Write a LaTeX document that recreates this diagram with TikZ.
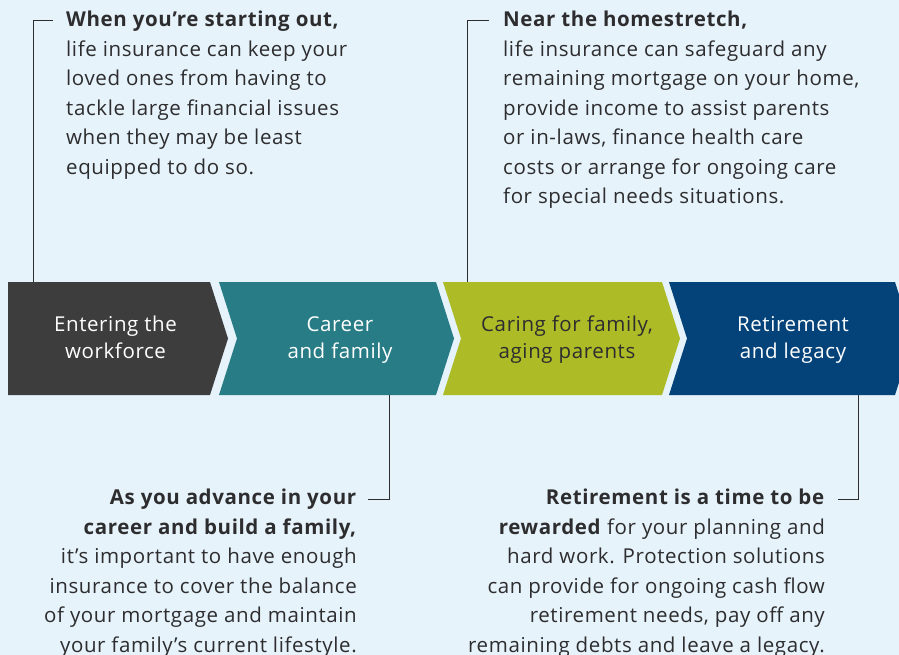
\documentclass[tikz,border=0pt]{standalone}
\usepackage{fontspec}
\setmainfont{Open Sans}[LetterSpace=3]
\definecolor{bg}{RGB}{230,243,250}
\definecolor{ink}{RGB}{45,45,47}
\definecolor{cdark}{RGB}{61,61,62}
\definecolor{cteal}{RGB}{39,124,133}
\definecolor{cgreen}{RGB}{173,187,38}
\definecolor{cnavy}{RGB}{4,67,122}
\begin{document}
\begin{tikzpicture}[x=1pt,y=-1pt,
  body/.style={font=\fontsize{20.5}{29.5}\selectfont, text=ink, inner sep=0pt},
  lab/.style={font=\fontsize{20.5}{27}\selectfont, align=center, inner sep=0pt, anchor=base},
  lead/.style={draw=ink, line width=0.9pt}]
\useasboundingbox (0,0) rectangle (899,655);
\fill[bg] (0,0) rectangle (899,655);
\clip (0,0) rectangle (899,655);
% chevrons
\fill[cdark]  (8,282) -- (210,282) -- (228,338.5) -- (210,395) -- (8,395) -- cycle;
\fill[cteal]  (219,282) -- (436,282) -- (454,338.5) -- (436,395) -- (219,395) -- (237,338.5) -- cycle;
\fill[cgreen] (443,282) -- (662,282) -- (680,338.5) -- (662,395) -- (443,395) -- (461,338.5) -- cycle;
\fill[cnavy]  (669,282) -- (895,282) -- (913,338.5) -- (895,395) -- (669,395) -- (687,338.5) -- cycle;
% chevron labels (base = last line)
\node[lab, text=white] (l1) at (115.5,358) {Entering the\\workforce};
\node[lab, text=white] (l2) at (340,358) {Career\\and family};
\node[lab, text=ink]   (l3) at (567,358) {Caring for family,\\aging parents};
\node[lab, text=white] (l4) at (793,358) {Retirement\\and legacy};
% text blocks (base = last line)
\node[body, align=left, anchor=base west] (t1) at (66,174.5)
  {\textbf{When you’re starting out,}\\life insurance can keep your\\loved ones from having to\\tackle large financial issues\\when they may be least\\equipped to do so.};
\node[body, align=left, anchor=base west] (t2) at (503,204)
  {\textbf{Near the homestretch,}\\life insurance can safeguard any\\remaining mortgage on your home,\\provide income to assist parents\\or in-laws, finance health care\\costs or arrange for ongoing care\\for special needs situations.};
\node[body, align=right, anchor=base east] (t3) at (357,652)
  {\textbf{As you advance in your}\\\textbf{career and build a family,}\\it’s important to have enough\\insurance to cover the balance\\of your mortgage and maintain\\your family’s current lifestyle.};
\node[body, align=right, anchor=base east] (t4) at (825,652)
  {\textbf{Retirement is a time to be}\\\textbf{rewarded} for your planning and\\hard work. Protection solutions\\can provide for ongoing cash flow\\retirement needs, pay off any\\remaining debts and leave a legacy.};
% connector anchors
\coordinate (a1) at (33,282);  \coordinate (b1) at (53,20);
\coordinate (a2) at (467,282); \coordinate (b2) at (489,20);
\coordinate (a3) at (389,395); \coordinate (b3) at (368,499);
\coordinate (a4) at (858,395); \coordinate (b4) at (838,499);
\draw[lead] (a1) |- (b1);
\draw[lead] (a2) |- (b2);
\draw[lead] (a3) |- (b3);
\draw[lead] (a4) |- (b4);
\end{tikzpicture}
\end{document}
